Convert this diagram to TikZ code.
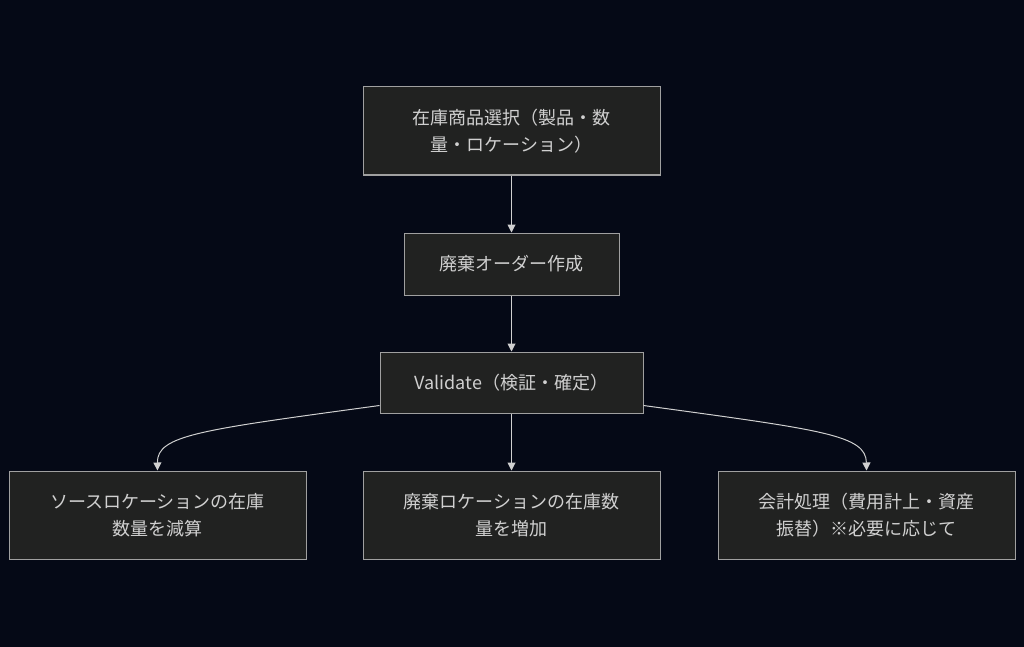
\documentclass[tikz,border=0pt]{standalone}
\usepackage{fontspec}
\setmainfont{Noto Sans CJK JP}
\usetikzlibrary{arrows.meta}
\definecolor{bg}{HTML}{050916}
\definecolor{boxfill}{HTML}{212221}
\definecolor{boxline}{HTML}{A0A0A0}
\definecolor{txt}{HTML}{D0D0D0}
\definecolor{edge}{HTML}{D0D0D0}
\tikzset{
  procbox/.style={draw=boxline, fill=boxfill, line width=1pt, text=txt,
    align=center, font=\fontsize{18}{27}\selectfont, inner sep=0pt},
  flow/.style={draw=edge, line width=1pt, -{Triangle[length=8pt,width=8pt]}}
}
\begin{document}
\begin{tikzpicture}[x=1pt,y=-1pt]
\fill[bg] (0,0) rectangle (1024,647);
\useasboundingbox (0,0) rectangle (1024,647);
\node[procbox, minimum width=297pt, minimum height=88pt] (A) at (511.5,131) {在庫商品選択（製品・数\\量・ロケーション）};
\node[procbox, minimum width=215pt, minimum height=62pt] (B) at (511.5,264) {廃棄オーダー作成};
\node[procbox, minimum width=263pt, minimum height=61pt] (C) at (511.5,382.5) {Validate（検証・確定）};
\node[procbox, minimum width=297pt, minimum height=88pt] (D) at (157.5,515) {ソースロケーションの在庫\\数量を減算};
\node[procbox, minimum width=297pt, minimum height=88pt] (E) at (511.5,515) {廃棄ロケーションの在庫数\\量を増加};
\node[procbox, minimum width=297pt, minimum height=88pt] (F) at (866.5,515) {会計処理（費用計上・資産\\振替）※必要に応じて};
\draw[flow] (A) -- (B);
\draw[flow] (B) -- (C);
\draw[flow] (C) -- (E);
\draw[flow] ([yshift=8pt]C.south west) .. controls (200,430) and (157,435) .. (D.north);
\draw[flow] ([yshift=8pt]C.south east) .. controls (823,430) and (866,435) .. (F.north);
\end{tikzpicture}
\end{document}
